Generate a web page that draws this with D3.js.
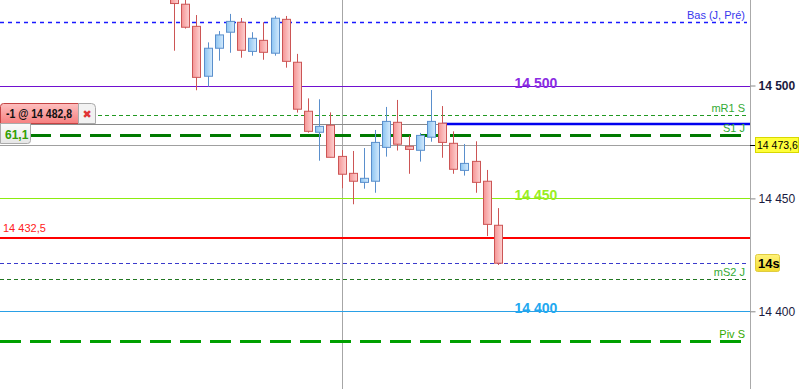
<!DOCTYPE html>
<html>
<head>
    <meta charset="utf-8">
    <style>
        body { margin: 0; background: #fff; }
        svg { display: block; font-family: "Liberation Sans", Arial, sans-serif; }
        .wick { stroke-width: 1px; }
        .body { stroke-width: 1px; }
        .axis-line { stroke: #aaa; }
        .tick-label { font-size: 12px; fill: #1a1a40; }
        .level-label { font-size: 11px; text-anchor: end; }
        .round-label { font-size: 14px; font-weight: bold; text-anchor: middle; }
    </style>
</head>
<body>
<div id="chart"></div>
<script src="https://cdn.jsdelivr.net/npm/d3@7/dist/d3.min.js"></script>
<script>

    // candles (oldest first)
    var opens  = [14540.1, 14536.0, 14526.2, 14504.1, 14516.5, 14523.6, 14528.0, 14515.1, 14520.0, 14514.3,
                  14529.3, 14510.3, 14488.6, 14479.3, 14482.4, 14468.6, 14461.1, 14457.1, 14457.6, 14472.6,
                  14483.7, 14473.1, 14471.3, 14477.1, 14483.3, 14474.4, 14462.4, 14466.4, 14457.6, 14438.1];
    var highs  = [14544.5, 14539.2, 14531.2, 14519.1, 14524.1, 14531.7, 14529.9, 14523.6, 14528.0, 14530.8,
                  14530.8, 14514.0, 14494.3, 14493.9, 14488.1, 14471.4, 14471.0, 14472.3, 14480.3, 14490.5,
                  14493.6, 14477.8, 14479.0, 14498.0, 14490.9, 14479.7, 14474.1, 14475.3, 14462.6, 14445.7];
    var lows   = [14515.4, 14525.2, 14497.9, 14499.5, 14511.0, 14514.5, 14512.3, 14513.2, 14511.4, 14513.2,
                  14507.9, 14488.0, 14479.1, 14466.7, 14468.2, 14454.5, 14447.4, 14454.3, 14452.5, 14468.5,
                  14471.2, 14460.9, 14466.3, 14475.1, 14468.0, 14460.9, 14460.1, 14452.5, 14433.3, 14420.5];
    var closes = [14536.3, 14525.8, 14503.6, 14516.5, 14522.4, 14528.4, 14515.6, 14520.9, 14514.7, 14529.8,
                  14510.7, 14489.5, 14479.7, 14481.9, 14468.2, 14460.7, 14457.6, 14458.9, 14474.8, 14484.1,
                  14474.0, 14471.7, 14477.9, 14484.1, 14474.8, 14462.9, 14465.5, 14457.1, 14438.5, 14421.3];

    // named levels drawn as horizontal lines
    var levelNames  = ["Bas (J, Pré)", "mR1 S", "S1 J", "mS2 J", "Piv S"];
    var levelValues = [14528.0, 14486.9, 14478.2, 14414.2, 14387.0];

    // round numbers
    var roundValues = [14500, 14450, 14400];

    var axisTicks = [14500, 14450, 14400];

    var stopPrice = 14432.5;
    var orderPrice = 14482.8;
    var orderQty = -1;
    var orderIndex = 24;
    var orderPnl = "61,1";
    var markPrice = 14473.6;
    var countdown = "14s";
    var sessionIndex = 15;

    var width = 799, height = 389, plotRight = 750;

    var levelStyle = {
        "Bas (J, Pré)": {stroke: "#1a1aff", width: 1.3, dash: "4,4", text: "#3838ee"},
        "mR1 S": {stroke: "#229922", width: 1, dash: "4,3", text: "#33aa33"},
        "S1 J": {stroke: "#007a00", width: 3, dash: "21,9", text: "#33aa33", end: 741},
        "mS2 J": {stroke: "#227722", width: 1, dash: "4,3", text: "#33aa33"},
        "Piv S": {stroke: "#00a000", width: 3, dash: "21,9", text: "#33aa00", end: 741}
    };
    var roundColors = {14500: "#7010d0", 14450: "#8cec10", 14400: "#2aa0e6"};
    var roundText = {14500: "#8a2be2", 14450: "#99ee22", 14400: "#22a8f0"};

    var fr = d3.formatLocale({decimal: ",", thousands: " ", grouping: [3], currency: ["", ""]});
    var fmtInt = fr.format(",.0f");
    var fmt1 = fr.format(",.1f");

    var x = d3.scaleLinear().domain([0, opens.length - 1]).range([174, 498]);
    var y = d3.scaleLinear().domain([14400, 14500]).range([311.3, 85.5]);

    var svg = d3.select("#chart").append("svg")
        .attr("width", width)
        .attr("height", height);

    var defs = svg.append("defs");
    function grad(id, c1, c2, vertical) {
        var g = defs.append("linearGradient").attr("id", id)
            .attr("x1", 0).attr("y1", 0).attr("x2", vertical ? 0 : 1).attr("y2", vertical ? 1 : 0);
        g.append("stop").attr("offset", "0%").attr("stop-color", c1);
        g.append("stop").attr("offset", "100%").attr("stop-color", c2);
    }
    grad("gDown", "#f59494", "#fdd2d2");
    grad("gUp", "#8cc4f2", "#d4eafc");
    grad("gOrder", "#fdc0c0", "#f67f7f", true);
    grad("gPnl", "#fafafa", "#e6e6e6", true);
    grad("gCount", "#fff27a", "#f2dc30", true);

    defs.append("clipPath").attr("id", "plot")
        .append("rect").attr("x", 0).attr("y", 0).attr("width", plotRight).attr("height", height);

    var plot = svg.append("g").attr("clip-path", "url(#plot)");

    // session separator
    plot.append("line")
        .attr("x1", Math.round(x(sessionIndex)) + 0.5).attr("x2", Math.round(x(sessionIndex)) + 0.5)
        .attr("y1", 0).attr("y2", height)
        .attr("stroke", "#a6a6a6");

    function py(v) { return Math.round(y(v)) + 0.5; }

    // round number lines
    roundValues.forEach(function (v) {
        plot.append("line").attr("x1", 0).attr("x2", plotRight)
            .attr("y1", py(v)).attr("y2", py(v))
            .attr("stroke", roundColors[v]).attr("stroke-width", v === 14400 ? 1 : 1.2);
    });

    // mark price line
    plot.append("line").attr("x1", 0).attr("x2", plotRight)
        .attr("y1", py(markPrice)).attr("y2", py(markPrice))
        .attr("stroke", "#a0a0a0");

    // stop line
    plot.append("line").attr("x1", 0).attr("x2", plotRight)
        .attr("y1", Math.round(y(stopPrice))).attr("y2", Math.round(y(stopPrice)))
        .attr("stroke", "#ff0000").attr("stroke-width", 2);

    // last price line
    plot.append("line").attr("x1", 0).attr("x2", 747)
        .attr("y1", py(closes[closes.length - 1])).attr("y2", py(closes[closes.length - 1]))
        .attr("stroke", "#3a3acc").attr("stroke-dasharray", "4,3");

    // levels
    levelNames.forEach(function (name, i) {
        var s = levelStyle[name];
        var yy = s.width > 2 ? Math.round(y(levelValues[i])) + 0.5 : py(levelValues[i]);
        plot.append("line").attr("x1", 0).attr("x2", s.end || 747)
            .attr("y1", yy).attr("y2", yy)
            .attr("stroke", s.stroke).attr("stroke-width", s.width)
            .attr("stroke-dasharray", s.dash);
    });

    // order line: grey before entry, blue after
    plot.append("line").attr("x1", 0).attr("x2", x(orderIndex) + 1)
        .attr("y1", py(orderPrice)).attr("y2", py(orderPrice))
        .attr("stroke", "#8a8a8a");
    plot.append("line").attr("x1", x(orderIndex) + 1).attr("x2", plotRight)
        .attr("y1", Math.round(y(orderPrice))).attr("y2", Math.round(y(orderPrice)))
        .attr("stroke", "#0000ee").attr("stroke-width", 2.5);

    // candles
    var candles = plot.append("g").selectAll("g")
        .data(d3.range(opens.length))
        .join("g");

    function isUp(i) { return closes[i] >= opens[i]; }

    candles.append("line").attr("class", "wick")
        .attr("x1", function (i) { return Math.round(x(i)) + 0.5; })
        .attr("x2", function (i) { return Math.round(x(i)) + 0.5; })
        .attr("y1", function (i) { return y(highs[i]); })
        .attr("y2", function (i) { return y(lows[i]); })
        .attr("stroke", function (i) { return isUp(i) ? "#5a8fcc" : "#cc5555"; });

    candles.append("rect").attr("class", "body")
        .attr("x", function (i) { return Math.round(x(i)) - 3.5; })
        .attr("width", 8)
        .attr("y", function (i) { return y(Math.max(opens[i], closes[i])); })
        .attr("height", function (i) { return Math.max(1, Math.abs(y(opens[i]) - y(closes[i]))); })
        .attr("fill", function (i) { return isUp(i) ? "url(#gUp)" : "url(#gDown)"; })
        .attr("stroke", function (i) { return isUp(i) ? "#5a8fcc" : "#cc5555"; })
        .attr("stroke-width", 1.4);

    // level labels
    levelNames.forEach(function (name, i) {
        svg.append("text").attr("class", "level-label")
            .attr("x", 745).attr("y", y(levelValues[i]) - 3)
            .attr("fill", levelStyle[name].text)
            .text(name);
    });

    roundValues.forEach(function (v) {
        svg.append("text").attr("class", "round-label")
            .attr("x", 536).attr("y", y(v) + 2)
            .attr("fill", roundText[v])
            .text(fmtInt(v));
    });

    svg.append("text")
        .attr("x", 3).attr("y", y(stopPrice) - 6)
        .attr("font-size", 11).attr("fill", "#ff2020")
        .text(fmt1(stopPrice));

    // order tag
    var oy = Math.round(y(orderPrice)) - 20.5;
    svg.append("path")
        .attr("d", "M0.5," + (oy + 20) + "V" + (oy + 3) + "Q0.5," + oy + " 3.5," + oy + "H78.5V" + (oy + 20) + "Z")
        .attr("fill", "url(#gOrder)").attr("stroke", "#c44444");
    svg.append("path")
        .attr("d", "M78.5," + oy + "H91.5Q95.5," + oy + " 95.5," + (oy + 4) + "V" + (oy + 20) + "H78.5Z")
        .attr("fill", "#f2f2f2").attr("stroke", "#aaaaaa");
    svg.append("text")
        .attr("x", 39).attr("y", oy + 14.5)
        .attr("text-anchor", "middle")
        .attr("font-size", 12).attr("font-weight", "bold").attr("fill", "#111")
        .attr("textLength", 66).attr("lengthAdjust", "spacingAndGlyphs")
        .text(orderQty + " @ " + fmt1(orderPrice));
    svg.append("text")
        .attr("x", 87).attr("y", oy + 14.5)
        .attr("text-anchor", "middle")
        .attr("font-family", "DejaVu Sans")
        .attr("font-size", 11).attr("font-weight", "bold").attr("fill", "#e03535")
        .text("\u2716");

    // pnl tag
    svg.append("path")
        .attr("d", "M0.5," + (oy + 20) + "H30.5V" + (oy + 37) + "Q30.5," + (oy + 40) + " 27.5," + (oy + 40) + "H0.5Z")
        .attr("fill", "url(#gPnl)").attr("stroke", "#aaaaaa");
    svg.append("text")
        .attr("x", 5).attr("y", oy + 35)
        .attr("font-size", 12).attr("font-weight", "bold").attr("fill", "#33a000")
        .text(orderPnl);

    // right axis
    svg.append("line").attr("class", "axis-line")
        .attr("x1", plotRight + 0.5).attr("x2", plotRight + 0.5)
        .attr("y1", 0).attr("y2", height);

    var axis = svg.append("g")
        .attr("transform", "translate(" + (plotRight + 0.5) + ",0)")
        .call(d3.axisRight(y).tickValues(axisTicks).tickSize(5).tickPadding(3).tickFormat(fmtInt));
    axis.select(".domain").remove();
    axis.selectAll(".tick line").attr("stroke", "#888");
    axis.selectAll(".tick text")
        .attr("class", "tick-label")
        .attr("font-family", null).attr("font-size", null)
        .attr("fill", function (d) { return d === 14500 ? "#000" : "#1a1a40"; })
        .attr("font-weight", function (d) { return d === 14500 ? "bold" : "normal"; });

    // mark price tag
    var my = Math.round(y(markPrice));
    svg.append("line").attr("x1", plotRight).attr("x2", 756)
        .attr("y1", my + 0.5).attr("y2", my + 0.5).attr("stroke", "#000");
    svg.append("rect").attr("x", 755.5).attr("y", my - 7.5).attr("width", 43).attr("height", 15)
        .attr("fill", "#ffff3a").attr("stroke", "#d8d800");
    svg.append("text").attr("x", 757).attr("y", my + 4)
        .attr("font-size", 10.5).attr("fill", "#000")
        .text(fmt1(markPrice));

    // countdown tag
    var cy = Math.round(y(closes[closes.length - 1]));
    svg.append("rect").attr("x", 755.5).attr("y", cy - 8.5).attr("width", 24).attr("height", 17).attr("rx", 2)
        .attr("fill", "url(#gCount)").attr("stroke", "#e0cc40");
    svg.append("text").attr("x", 758).attr("y", cy + 5)
        .attr("font-size", 13).attr("font-weight", "bold").attr("fill", "#000")
        .text(countdown);

</script>
</body>
</html>
